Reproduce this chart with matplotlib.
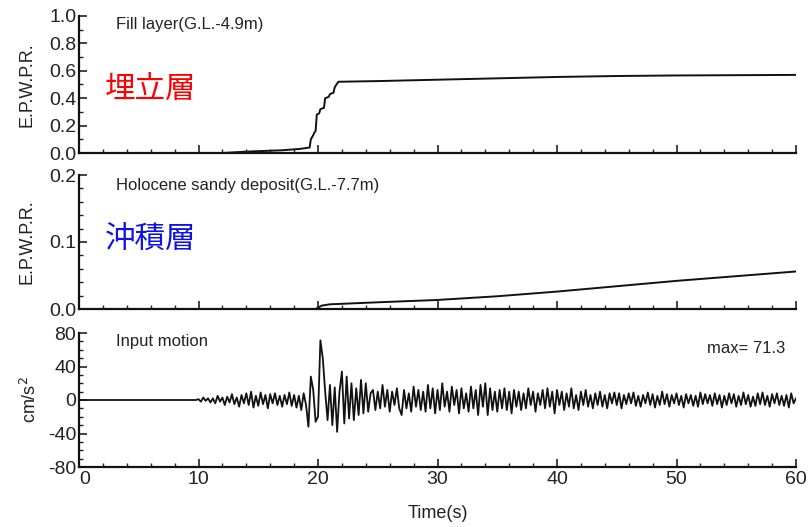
import numpy as np
import matplotlib
matplotlib.use("Agg")
import matplotlib.pyplot as plt
from matplotlib.ticker import MultipleLocator

# Excess pore water pressure ratio, fill layer (G.L.-4.9m)
fill_time = [0.0, 12.0, 14.0, 17.0, 18.5, 19.3, 19.4, 19.6, 19.7, 19.8, 19.9, 20.1,
             20.2, 20.5, 20.6, 20.9, 21.0, 21.3, 21.4, 21.7, 25.0, 30.0, 35.0, 40.0,
             45.0, 50.0, 55.0, 60.0]
fill_eppr = [0.0, 0.0, 0.01, 0.02, 0.03, 0.04, 0.10, 0.13, 0.15, 0.16, 0.28, 0.29,
             0.32, 0.33, 0.40, 0.41, 0.43, 0.44, 0.48, 0.52, 0.525, 0.535, 0.545, 0.555,
             0.562, 0.566, 0.568, 0.57]

# Excess pore water pressure ratio, Holocene sandy deposit (G.L.-7.7m)
holo_time = [0.0, 19.8, 20.3, 21.0, 25.0, 30.0, 35.0, 40.0, 45.0, 50.0, 55.0, 60.0]
holo_eppr = [0.0, 0.0, 0.005, 0.007, 0.010, 0.0135, 0.019, 0.026, 0.034, 0.042, 0.049, 0.056]

# Input acceleration (cm/s^2); quiet record before 9.8 s, then samples every 0.2 s from 10 s
quiet_time = [0.0, 9.8]
quiet_acc = [0.0, 0.0]
acc_start, acc_dt = 10.0, 0.2
acc = [
    1, -2, 3, -1, 2,
    -3, 2, -4, 5, -2,
    3, -6, 4, -3, 7,
    -5, 3, -8, 6, -4,
    8, -6, 10, -9, 5,
    -7, 9, -5, 6, -10,
    7, -4, 8, -6, 5,
    -8, 6, -5, 9, -7,
    6, -9, 5, -12, 8,
    -6, -32, 28, 12, -26,
    -20, 71.3, 50, 10, -24,
    18, -30, 15, -38, 10,
    34, -28, 28, -22, 20,
    -24, 14, -18, 24, -16,
    20, -14, 8, 12, -12,
    10, -10, 18, -8, 12,
    -14, 10, -6, 14, -10,
    -18, 12, -10, 8, -14,
    16, -8, 12, -12, 10,
    -14, 18, -10, 14, -16,
    12, -12, 20, -8, 10,
    -14, 16, -6, 12, -16,
    14, -10, 8, -14, 16,
    -10, 12, -18, 18, -8,
    20, -18, 14, -12, 10,
    -14, 12, -10, 14, -12,
    10, -16, 12, -8, 10,
    -12, 8, -10, 14, -6,
    10, -14, 8, -6, 12,
    -10, 14, -8, 10, -16,
    12, -6, 10, -12, 8,
    -8, 14, -10, 6, -12,
    10, -6, 12, -8, 6,
    -10, 8, -6, 10, -8,
    6, -10, 8, -4, 9,
    -6, 8, -10, 6, -5,
    8, -4, 9, -7, 5,
    -8, 6, -4, 9, -6,
    7, -9, 5, -6, 10,
    -5, 7, -8, 6, -4,
    8, -6, 5, -9, 7,
    -4, 6, -7, 5, -8,
    9, -5, 7, -4, 6,
    -7, 8, -5, 6, -9,
    5, -6, 8, -4, 7,
    -8, 5, -6, 9, -5,
    6, -8, 4, -7, 8,
    -5, 9, -6, 5, -8,
    7, -4, 8, -6, 5,
    -7, 6, -9, 8, -4,
    2,
]
acc_time = acc_start + acc_dt * np.arange(len(acc))

LAT = ["Liberation Sans Narrow", "Liberation Sans", "DejaVu Sans"]
CJK = ["Noto Sans CJK JP", "DejaVu Sans"]
INK = "#222222"
TICK_FS = 14

fig = plt.figure(figsize=(8.09, 5.27), dpi=100)
W, H = 809, 527


def box(left, top, right, bottom):
    return [left / W, 1 - bottom / H, (right - left) / W, (bottom - top) / H]


ax1 = fig.add_axes(box(79, 16, 796, 153))
ax2 = fig.add_axes(box(79, 175, 796, 309))
ax3 = fig.add_axes(box(79, 333, 796, 467))

for ax in (ax1, ax2, ax3):
    ax.set_xlim(0, 60)
    for side in ("top", "right"):
        ax.spines[side].set_visible(False)
    for side in ("left", "bottom"):
        ax.spines[side].set_linewidth(1.6)
        ax.spines[side].set_color("#111111")
    ax.xaxis.set_major_locator(MultipleLocator(10))
    ax.xaxis.set_minor_locator(MultipleLocator(2))
    ax.tick_params(which="major", direction="in", length=6, width=1.2,
                   labelsize=TICK_FS, pad=2, colors=INK)
    ax.tick_params(which="minor", direction="in", length=3, width=1.0, colors=INK)

# Fill layer
ax1.plot(fill_time, fill_eppr, color="#111111", lw=1.4)
ax1.set_ylim(0, 1.0)
ax1.set_yticks([0.0, 0.2, 0.4, 0.6, 0.8, 1.0])
ax1.set_yticklabels(["0.0", "0.2", "0.4", "0.6", "0.8", "1.0"], family=LAT, fontsize=TICK_FS)
ax1.yaxis.set_minor_locator(MultipleLocator(0.1))
ax1.tick_params(axis="x", labelbottom=False)
ax1.text(0.052, 0.94, "Fill layer(G.L.-4.9m)", transform=ax1.transAxes,
         family=LAT, fontsize=12, color=INK, va="center")
ax1.text(0.036, 0.46, "埋立層", transform=ax1.transAxes, family=CJK,
         fontsize=22, color="#ff0000", va="center")
ax1.set_ylabel("E.P.W.P.R.", family=LAT, fontsize=13, color=INK, labelpad=10)

# Holocene sandy deposit
ax2.plot(holo_time, holo_eppr, color="#111111", lw=1.4)
ax2.set_ylim(0, 0.2)
ax2.set_yticks([0.0, 0.1, 0.2])
ax2.set_yticklabels(["0.0", "0.1", "0.2"], family=LAT, fontsize=TICK_FS)
ax2.yaxis.set_minor_locator(MultipleLocator(0.02))
ax2.tick_params(axis="x", labelbottom=False)
ax2.text(0.052, 0.918, "Holocene sandy deposit(G.L.-7.7m)", transform=ax2.transAxes,
         family=LAT, fontsize=12, color=INK, va="center")
ax2.text(0.036, 0.52, "沖積層", transform=ax2.transAxes, family=CJK,
         fontsize=22, color="#1010e8", va="center")
ax2.set_ylabel("E.P.W.P.R.", family=LAT, fontsize=13, color=INK, labelpad=10)

# Input motion
ax3.plot(quiet_time + list(acc_time), quiet_acc + acc, color="#111111", lw=1.3)
ax3.set_ylim(-80, 80)
ax3.set_yticks([-80, -40, 0, 40, 80])
ax3.set_yticklabels(["-80", "-40", "0", "40", "80"], family=LAT, fontsize=TICK_FS)
ax3.yaxis.set_minor_locator(MultipleLocator(10))
ax3.set_xticks([0, 10, 20, 30, 40, 50, 60])
xlabels = ax3.set_xticklabels(["0", "10", "20", "30", "40", "50", "60"],
                              family=LAT, fontsize=TICK_FS)
xlabels[0].set_horizontalalignment("left")
ax3.tick_params(axis="x", pad=3)
ax3.text(0.052, 0.94, "Input motion", transform=ax3.transAxes,
         family=LAT, fontsize=12, color=INK, va="center")
ax3.text(0.985, 0.888, "max= 71.3", transform=ax3.transAxes, ha="right",
         family=LAT, fontsize=12, color=INK, va="center")
ax3.set_ylabel("cm/s$^2$", family=LAT, fontsize=13, color=INK, labelpad=6)
ax3.set_xlabel("Time(s)", family=LAT, fontsize=13, color=INK, labelpad=12)

fig.savefig("out.png", dpi=100, facecolor="white")
